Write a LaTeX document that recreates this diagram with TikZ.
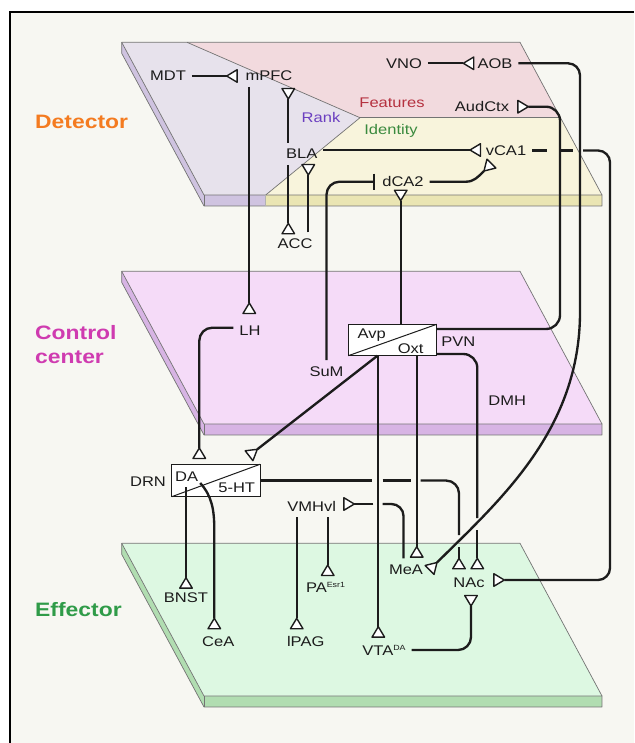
\documentclass[tikz,border=0pt]{standalone}
\usepackage{fontspec}
\setmainfont{Liberation Sans}[FakeStretch=1.18]
\usetikzlibrary{calc}
\definecolor{bgc}{HTML}{F7F7F2}
\definecolor{ranktop}{HTML}{E7E2EC}
\definecolor{rankside}{HTML}{CFC3E0}
\definecolor{feattop}{HTML}{F2DADE}
\definecolor{identtop}{HTML}{F8F4DC}
\definecolor{identside}{HTML}{EAE5B3}
\definecolor{ctrltop}{HTML}{F5DBF8}
\definecolor{ctrlside}{HTML}{D7B4E4}
\definecolor{efftop}{HTML}{DDF8E2}
\definecolor{effside}{HTML}{B1DDB1}
\definecolor{rankc}{HTML}{6B3FC0}
\definecolor{featc}{HTML}{B5313F}
\definecolor{identc}{HTML}{3A8A3E}
\definecolor{detc}{HTML}{F47B20}
\definecolor{ctrlc}{HTML}{CF3BB0}
\definecolor{effc}{HTML}{2F9B48}
\definecolor{ink}{HTML}{1C1C1C}
\newcommand\mysup[1]{\raisebox{4.6pt}{\fontsize{7.5}{7.5}\selectfont #1}}
\newcommand\syndraw[2]{\filldraw[synstyle, shift={(#1)}] (0,0) -- (#2+149:12.2) -- (#2+211:12.2) -- cycle;}
\begin{document}
\begin{tikzpicture}[x=1pt,y=-1pt,
  conn/.style={line width=2.35pt, draw=ink},
  synstyle/.style={fill=white, draw=ink, line width=1.4pt, line join=round},
  lbl/.style={inner sep=3pt, outer sep=3pt, text height=10pt, text depth=0pt,
    font=\fontsize{14}{14}\selectfont, text=ink},
  layer/.style={inner sep=0pt, anchor=base west, font=\fontsize{19.4}{20}\selectfont\bfseries},
  edge/.style={draw=black!55, line width=0.7pt, line join=round},
  boxn/.style={draw=ink, line width=1pt, fill=white, minimum width=88.4, minimum height=31.4, inner sep=0pt, outer sep=0pt}]
\useasboundingbox (0,0) rectangle (634,743);
\fill[white] (0,0) rectangle (634,743);
\fill[bgc] (10,12) rectangle (634,743);
\draw[line width=2.2pt, black] (10,743) -- (10,12) -- (634,12);

% ---------- Detector plane
\fill[rankside] (121.7,42.3) -- (204,195) -- (204,206) -- (121.7,53.3) -- cycle;
\fill[rankside] (204,195) rectangle (265.7,206);
\fill[identside] (265.7,195) rectangle (602,206);
\fill[ranktop] (121.7,42.3) -- (187,42.3) -- (360,117.7) -- (265.7,195) -- (204,195) -- cycle;
\fill[feattop] (187,42.3) -- (520,42.3) -- (560.7,117.7) -- (360,117.7) -- cycle;
\fill[identtop] (360,117.7) -- (560.7,117.7) -- (602,195) -- (265.7,195) -- cycle;
\draw[edge] (121.7,53.3) -- (121.7,42.3) -- (520,42.3) -- (602,195) -- (602,206) -- (204,206) -- cycle;
\draw[edge] (121.7,42.3) -- (204,195) -- (602,195);
\draw[edge] (204,195) -- (204,206);
\draw[edge] (187,42.3) -- (360,117.7) -- (265.7,195);
\draw[edge] (360,117.7) -- (560.7,117.7);
\draw[edge, draw=black!30] (265.7,195) -- (265.7,206);

% ---------- Control plane
\begin{scope}[shift={(0,229)}]
\fill[ctrlside] (121.7,42.3) -- (204,195) -- (204,206) -- (121.7,53.3) -- cycle;
\fill[ctrlside] (204,195) rectangle (602,206);
\fill[ctrltop] (121.7,42.3) -- (520,42.3) -- (602,195) -- (204,195) -- cycle;
\draw[edge] (121.7,53.3) -- (121.7,42.3) -- (520,42.3) -- (602,195) -- (602,206) -- (204,206) -- cycle;
\draw[edge] (121.7,42.3) -- (204,195) -- (602,195);
\draw[edge] (204,195) -- (204,206);
\end{scope}

% ---------- Effector plane
\begin{scope}[shift={(0,501)}]
\fill[effside] (121.7,42.3) -- (204,195) -- (204,206) -- (121.7,53.3) -- cycle;
\fill[effside] (204,195) rectangle (602,206);
\fill[efftop] (121.7,42.3) -- (520,42.3) -- (602,195) -- (204,195) -- cycle;
\draw[edge] (121.7,53.3) -- (121.7,42.3) -- (520,42.3) -- (602,195) -- (602,206) -- (204,206) -- cycle;
\draw[edge] (121.7,42.3) -- (204,195) -- (602,195);
\draw[edge] (204,195) -- (204,206);
\end{scope}

% ---------- layer labels
\node[layer, text=detc] (Ldet) at (35,129) {Detector};
\node[layer, text=ctrlc] (Lctrl1) at (35,339.3) {Control};
\node[layer, text=ctrlc] (Lctrl2) at (35,363) {center};
\node[layer, text=effc] (Leff) at (35,616) {Effector};

% ---------- region nodes
\node[lbl] (MDT) at (168,76) {MDT};
\node[lbl] (mPFC) at (269,76) {mPFC};
\node[lbl, text=rankc] (Rank) at (321,118) {Rank};
\node[lbl, text=featc] (Feat) at (392,103) {Features};
\node[lbl, text=identc] (Ident) at (391,130) {Identity};
\node[lbl] (BLA) at (301.7,154) {BLA};
\node[lbl] (ACC) at (295,243.3) {ACC};
\node[lbl] (VNO) at (404,63.3) {VNO};
\node[lbl] (AOB) at (495,63.3) {AOB};
\node[lbl] (AudCtx) at (482,106.7) {AudCtx};
\node[lbl] (vCA1) at (506,150.5) {vCA1};
\node[lbl] (dCA2) at (403,181.7) {dCA2};
\node[lbl] (LH) at (250,330.7) {LH};
\node[lbl] (SuM) at (326.5,371) {SuM};
\node[boxn] (PVNbox) at (392.5,340) {};
\draw[ink, line width=1pt] (PVNbox.south west) -- (PVNbox.north east);
\node[lbl] (Avp) at (371.7,333.3) {Avp};
\node[lbl] (Oxt) at (410.7,348.3) {Oxt};
\node[lbl] (PVN) at (458.3,341.7) {PVN};
\node[lbl] (DMH) at (507.3,400) {DMH};
\node[boxn, minimum width=88.3, minimum height=32.4] (DRNbox) at (215.85,480.5) {};
\draw[ink, line width=1pt] (DRNbox.south west) -- (DRNbox.north east);
\node[lbl] (DRN) at (148,481) {DRN};
\node[lbl] (DA) at (186.7,476) {DA};
\node[lbl] (HT) at (236.7,487.3) {5-HT};
\node[lbl] (VMHvl) at (311.7,506) {VMHvl};
\node[lbl] (MeA) at (406,569.3) {MeA};
\node[lbl] (NAc) at (469,582.3) {NAc};
\node[lbl] (BNST) at (186,597.3) {BNST};
\node[lbl] (CeA) at (218.3,641) {CeA};
\node[lbl] (lPAG) at (305.7,641) {lPAG};
\node[lbl] (PA) at (325.5,587.3) {PA\mysup{Esr1}};
\node[lbl] (VTA) at (384,650) {VTA\mysup{DA}};

% ---------- terminal points
\coordinate (t1) at (226.7,76);
\coordinate (t2) at (249.3,303);
\coordinate (t3) at (288.3,99);
\coordinate (t4) at (288.3,223.3);
\coordinate (t5) at (308.3,175);
\coordinate (t6) at (470,150);
\coordinate (t7) at (463.3,63.3);
\coordinate (t8) at (528.3,106.7);
\coordinate (t9) at (484,171);
\coordinate (t10) at (400.7,200.7);
\coordinate (t11) at (199.3,448);
\coordinate (t12) at (257.3,449.3);
\coordinate (t13) at (437,562.5);
\coordinate (t14) at (416.7,546.7);
\coordinate (t15) at (459,558.3);
\coordinate (t16) at (477.3,558.3);
\coordinate (t17) at (504.3,580);
\coordinate (t18) at (471,606);
\coordinate (t19) at (378.3,626.7);
\coordinate (t20) at (354.3,504);
\coordinate (t21) at (186,577.7);
\coordinate (t22) at (214.3,618.3);
\coordinate (t23) at (296.7,618.3);
\coordinate (t24) at (327.7,565);
\coordinate (bar) at (374,181.7);

% ---------- connectors
\draw[conn] (MDT.east) -- (t1);
\draw[conn] (t2 |- mPFC.south) -- (t2);
\draw[conn] (t3 |- BLA.north) -- (t3);
\draw[conn] (t4 |- BLA.south) -- (t4);
\draw[conn] (t5 |- ACC.north) -- (t5);
\draw[conn] (BLA.east |- t6) -- (t6);
\draw[conn] (VNO.east) -- (t7);
\draw[conn, rounded corners=12] (AOB.east) -| (580,300) .. controls (580,430) and (500,500) .. (t13);
\draw[conn, rounded corners=14] ([yshift=11pt]PVNbox.east) -| (560,106.7) -- (t8);
\draw[conn] (dCA2.east) -- (466,181.7) .. controls (474,181.7) and (478.3,176.7) .. (t9);
\draw[conn] (t10 |- PVNbox.north) -- (t10);
\draw[conn, rounded corners=13] (SuM.north) |- (bar);
\draw[conn] ([yshift=8pt]bar) -- ([yshift=-8pt]bar);
\draw[conn, rounded corners=13] ([yshift=3pt]LH.west) -| (t11);
\draw[conn] ($(PVNbox.south west)!0.33!(PVNbox.south east)$) -- (t12);
\draw[conn] (t19 |- PVNbox.south) -- (t19);
\draw[conn] (t14 |- PVNbox.south) -- (t14);
\draw[conn, rounded corners=14] ([yshift=-14pt]PVNbox.east) -| (477.3,518);
\draw[conn] (477.3,530) -- (t16);
\draw[conn] (t21 |- DA.south) -- (t21);
\draw[conn] ([shift={(-4pt,4pt)}]DA.south east) .. controls (212,496) and (214.3,510) .. (214.3,530) -- (t22);
\draw[conn] (DRNbox.east) -- (372.3,480.5);
\draw[conn] (382.7,480.5) -- (410.7,480.5);
\draw[conn, rounded corners=13] (420.7,480.5) -| (459,535);
\draw[conn] (459,547) -- (t15);
\draw[conn, rounded corners=12] ([xshift=-2.5pt]MeA.north) |- (382.7,504);
\draw[conn] (373.3,504) -- (t20);
\draw[conn] (t23 |- VMHvl.south) -- (t23);
\draw[conn] (t24 |- VMHvl.south) -- (t24);
\draw[conn] (vCA1.east) -- (547,150.5);
\draw[conn] (559,150.5) -- (573,150.5);
\draw[conn, rounded corners=12] (583,150.5) -| (610,580) -- (t17);
\draw[conn, rounded corners=13] (VTA.east) -| (t18);

% ---------- synaptic terminals
\syndraw{t1}{180}
\syndraw{t2}{270}
\syndraw{t3}{90}
\syndraw{t4}{270}
\syndraw{t5}{90}
\syndraw{t6}{180}
\syndraw{t7}{180}
\syndraw{t8}{0}
\syndraw{t9}{135}
\syndraw{t10}{90}
\syndraw{t11}{270}
\syndraw{t12}{-37.9}
\syndraw{t13}{-45}
\syndraw{t14}{270}
\syndraw{t15}{270}
\syndraw{t16}{270}
\syndraw{t17}{0}
\syndraw{t18}{90}
\syndraw{t19}{270}
\syndraw{t20}{0}
\syndraw{t21}{270}
\syndraw{t22}{270}
\syndraw{t23}{270}
\syndraw{t24}{270}
\end{tikzpicture}
\end{document}
